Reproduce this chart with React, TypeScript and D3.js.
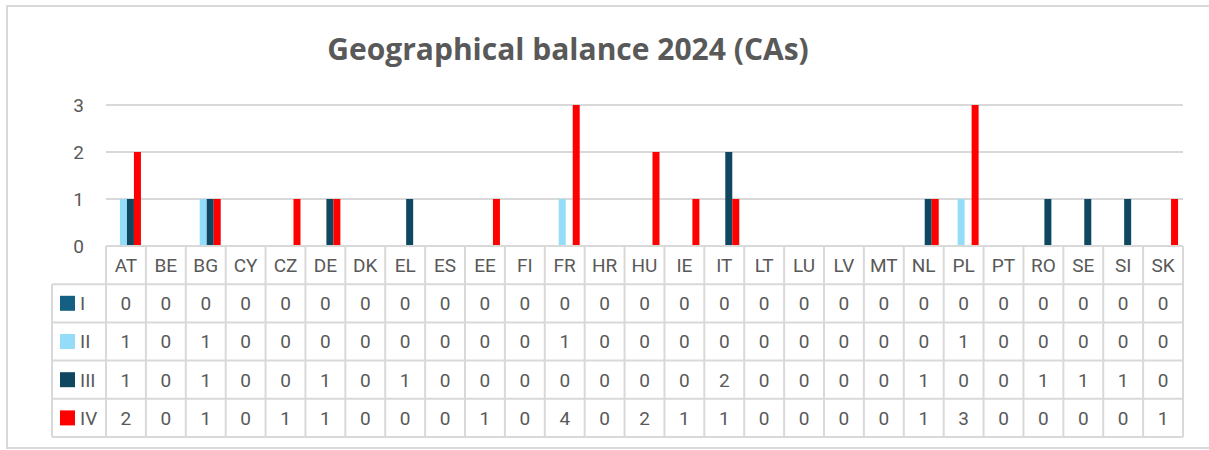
import React, { useEffect, useRef } from "react";
import * as d3 from "d3";

const categories = ["AT","BE","BG","CY","CZ","DE","DK","EL","ES","EE","FI","FR","HR","HU","IE","IT","LT","LU","LV","MT","NL","PL","PT","RO","SE","SI","SK"];
const seriesNames = ["I", "II", "III", "IV"];
const seriesI = [0,0,0,0,0,0,0,0,0,0,0,0,0,0,0,0,0,0,0,0,0,0,0,0,0,0,0];
const seriesII = [1,0,1,0,0,0,0,0,0,0,0,1,0,0,0,0,0,0,0,0,0,1,0,0,0,0,0];
const seriesIII = [1,0,1,0,0,1,0,1,0,0,0,0,0,0,0,2,0,0,0,0,1,0,0,1,1,1,0];
const seriesIV = [2,0,1,0,1,1,0,0,0,1,0,4,0,2,1,1,0,0,0,0,1,3,0,0,0,0,1];
const yTicks = [0, 1, 2, 3];
const colors = ["#156082", "#94dcf8", "#0f4761", "#ff0000"];
const title = "Geographical balance 2024 (CAs)";

const W = 1209, H = 450;

export default function App() {
  const ref = useRef<SVGSVGElement>(null);
  useEffect(() => {
    const svg = d3.select(ref.current);
    svg.selectAll("*").remove();
    const values = [seriesI, seriesII, seriesIII, seriesIV];
    const left = 106, right = 1183, top = 105, base = 246;
    const rowH = 38.2;
    const legendLeft = 52;
    const font = "Roboto, 'Liberation Sans', Arial, sans-serif";
    const textColor = "#595959";
    const gridColor = "#d9d9d9";

    // outer frame
    svg.append("rect").attr("x", 7).attr("y", 6).attr("width", W + 10).attr("height", 442)
      .attr("fill", "white").attr("stroke", gridColor).attr("stroke-width", 2);

    svg.append("text").attr("x", 568).attr("y", 60).attr("text-anchor", "middle")
      .attr("font-family", "'Open Sans', sans-serif").attr("font-weight", 700)
      .attr("font-size", 30).attr("fill", textColor).text(title);

    const x = d3.scaleBand<string>().domain(categories).range([left, right]).padding(0);
    const xs = d3.scaleBand<string>().domain(seriesNames).range([0, x.bandwidth()])
      .paddingInner(0).paddingOuter(0.85);
    const y = d3.scaleLinear().domain([0, 3]).range([base, top]).clamp(true);

    // gridlines
    svg.append("g").selectAll("line").data(yTicks.filter(t => t > 0)).join("line")
      .attr("x1", left).attr("x2", right).attr("y1", d => y(d)).attr("y2", d => y(d))
      .attr("stroke", gridColor).attr("stroke-width", 2);

    // y labels
    svg.append("g").selectAll("text").data(yTicks).join("text")
      .attr("x", 84).attr("y", d => y(d)).attr("dy", "0.35em").attr("text-anchor", "end")
      .attr("font-family", font).attr("font-size", 19).attr("fill", textColor)
      .text(d => String(d));

    // bars
    seriesNames.forEach((s, si) => {
      svg.append("g").selectAll("rect").data(categories).join("rect")
        .attr("x", c => (x(c) as number) + (xs(s) as number) + 1)
        .attr("width", xs.bandwidth())
        .attr("y", (c, i) => y(values[si][i]))
        .attr("height", (c, i) => base - y(values[si][i]))
        .attr("fill", colors[si]);
    });

    // table
    const g = svg.append("g");
    const tableBottom = base + rowH * 5;
    const lineAttrs = (sel: any) => sel.attr("stroke", gridColor).attr("stroke-width", 2);
    for (let r = 0; r <= 5; r++) {
      const yy = base + rowH * r;
      lineAttrs(g.append("line").attr("x1", r === 0 ? left : legendLeft).attr("x2", right)
        .attr("y1", yy).attr("y2", yy));
    }
    const xEdges = categories.map(c => x(c) as number).concat([right]);
    xEdges.forEach(xx => {
      lineAttrs(g.append("line").attr("x1", xx).attr("x2", xx).attr("y1", base).attr("y2", tableBottom));
    });
    lineAttrs(g.append("line").attr("x1", legendLeft).attr("x2", legendLeft)
      .attr("y1", base + rowH).attr("y2", tableBottom));

    // header labels
    g.append("g").selectAll("text").data(categories).join("text")
      .attr("x", c => (x(c) as number) + x.bandwidth() / 2).attr("y", base + rowH / 2)
      .attr("dy", "0.36em").attr("text-anchor", "middle")
      .attr("font-family", font).attr("font-size", 19).attr("fill", textColor).text(c => c);

    // rows
    seriesNames.forEach((s, si) => {
      const cy = base + rowH * (si + 1) + rowH / 2;
      g.append("rect").attr("x", 60).attr("y", cy - 7.5).attr("width", 15).attr("height", 15)
        .attr("fill", colors[si]);
      g.append("text").attr("x", 80).attr("y", cy).attr("dy", "0.36em")
        .attr("font-family", font).attr("font-size", 19).attr("fill", textColor).text(s);
      g.append("g").selectAll("text").data(categories).join("text")
        .attr("x", c => (x(c) as number) + x.bandwidth() / 2).attr("y", cy)
        .attr("dy", "0.36em").attr("text-anchor", "middle")
        .attr("font-family", font).attr("font-size", 19).attr("fill", textColor)
        .text((c, i) => String(values[si][i]));
    });
  }, []);
  return (
    <svg ref={ref} width={W} height={H}
      style={{ position: "absolute", left: 0, top: 0, background: "white" }} />
  );
}
